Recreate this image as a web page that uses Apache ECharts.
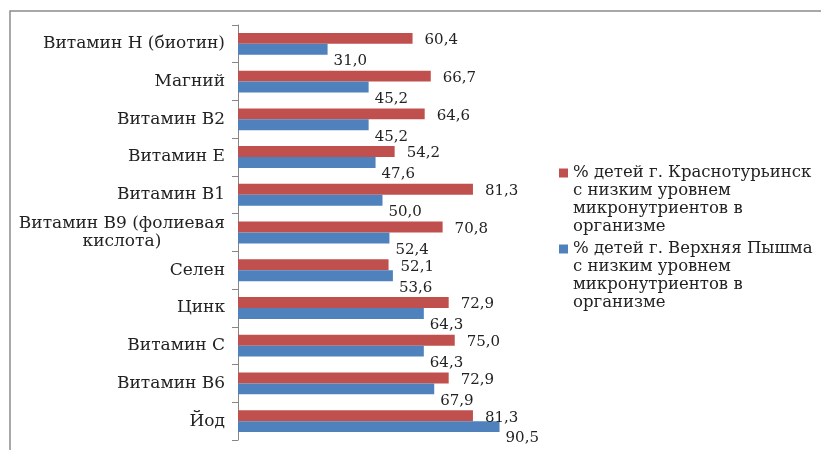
<!DOCTYPE html>
<html>
<head>
<meta charset="utf-8">
<script src="https://cdn.jsdelivr.net/npm/echarts@6/dist/echarts.min.js"></script>
<style>
  html, body { margin: 0; padding: 0; background: #fff; }
  #chart { width: 821px; height: 450px; }
</style>
</head>
<body>
<div id="chart"></div>
<script>
var categories = ['Витамин Н (биотин)', 'Магний', 'Витамин В2', 'Витамин Е', 'Витамин В1',
    'Витамин В9 (фолиевая\nкислота)', 'Селен', 'Цинк', 'Витамин С', 'Витамин В6', 'Йод'];
var krasnoturinsk = [60.4, 66.7, 64.6, 54.2, 81.3, 70.8, 52.1, 72.9, 75.0, 72.9, 81.3];
var pyshma = [31.0, 45.2, 45.2, 47.6, 50.0, 52.4, 53.6, 64.3, 64.3, 67.9, 90.5];
var seriesNames = [
    '% детей г. Краснотурьинск\nс низким уровнем\nмикронутриентов в\nорганизме',
    '% детей г. Верхняя Пышма\nс низким уровнем\nмикронутриентов в\nорганизме'
];

var serif = '"DejaVu Serif", "Liberation Serif", serif';
function fmt(p) { return p.value.toFixed(1).replace('.', ','); }

// square marker sitting at the first text line of a 4-line legend entry
var legendIcon = 'path://M0,0L0,72M0,4.5L9,4.5L9,13.5L0,13.5Z';

var myChart = echarts.init(document.getElementById('chart'));
var option = {
    animation: false,
    textStyle: { fontFamily: serif },
    graphic: [{
        type: 'rect',
        shape: { x: 10, y: 11, width: 830, height: 460 },
        style: { fill: 'none', stroke: '#8c8c8c', lineWidth: 1.5 }
    }],
    legend: {
        orient: 'vertical',
        left: 554,
        top: 159,
        itemWidth: 9,
        itemHeight: 72,
        itemGap: 4,
        icon: legendIcon,
        textStyle: { fontFamily: serif, fontSize: 16.5, color: '#222', lineHeight: 18 },
        data: seriesNames
    },
    grid: { left: 238, top: 25, width: 289, height: 415 },
    xAxis: {
        type: 'value',
        min: 0,
        max: 100,
        show: false
    },
    yAxis: {
        type: 'category',
        inverse: true,
        data: categories,
        axisLine: { show: true, lineStyle: { color: '#868686' } },
        axisTick: { show: true, length: 6, lineStyle: { color: '#868686' } },
        axisLabel: {
            margin: 13,
            fontFamily: serif,
            fontSize: 17,
            color: '#222',
            lineHeight: 18,
            formatter: function (v) {
                return v.split('\n').map(function (s) { return '{c|' + s + '}'; }).join('\n');
            },
            rich: { c: { align: 'center', fontFamily: serif, fontSize: 17, color: '#222', lineHeight: 18 } }
        }
    },
    series: [
        {
            name: seriesNames[0],
            type: 'bar',
            data: krasnoturinsk,
            barGap: '0%',
            barCategoryGap: '42%',
            itemStyle: { color: '#C0504D' },
            label: {
                show: true, position: 'right', distance: 12, offset: [0, 2],
                fontFamily: serif, fontSize: 15, color: '#222',
                formatter: fmt
            }
        },
        {
            name: seriesNames[1],
            type: 'bar',
            data: pyshma,
            itemStyle: { color: '#4F81BD' },
            label: {
                show: true, position: 'right', distance: 6, offset: [0, 12],
                fontFamily: serif, fontSize: 15, color: '#222',
                formatter: fmt
            }
        }
    ]
};
myChart.setOption(option);
</script>
</body>
</html>
